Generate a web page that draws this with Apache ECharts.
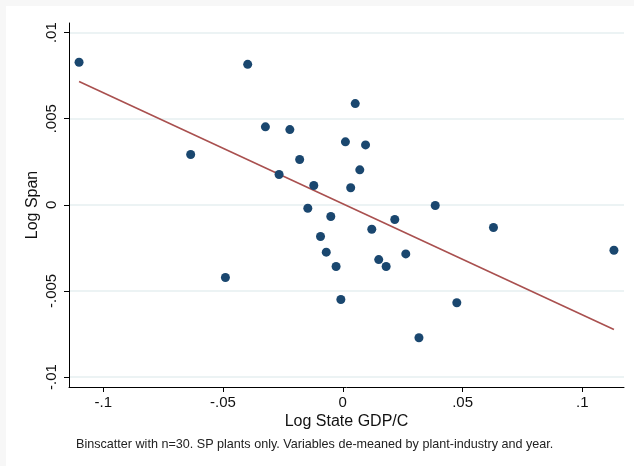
<!DOCTYPE html>
<html>
<head>
<meta charset="utf-8">
<script src="https://cdn.jsdelivr.net/npm/echarts@6/dist/echarts.min.js"></script>
<style>
  html, body { margin: 0; padding: 0; background: #f7f7f7; }
  #chart { width: 634px; height: 466px; }
</style>
</head>
<body>
<div id="chart"></div>
<script>
// Binned means: log state GDP per capita (x) vs log span (y)
const binX = [-0.1101, -0.0397, -0.0635, -0.0323, -0.0221, 0.0052, 0.0011, 0.0095, -0.0180, 0.0071,
              -0.0266, -0.0121, 0.0033, 0.0386, -0.0146, -0.0050, 0.0217, 0.0121, -0.0093, -0.0069,
              -0.0028, 0.0150, 0.0181, 0.0263, -0.0008, 0.0318, 0.0629, 0.1132, 0.0476, -0.0490];
const binY = [0.00828, 0.00816, 0.00292, 0.00453, 0.00437, 0.00588, 0.00366, 0.00348, 0.00263, 0.00203,
              0.00176, 0.00112, 0.00099, -0.00004, -0.00020, -0.00068, -0.00085, -0.00142, -0.00184, -0.00275,
              -0.00358, -0.00318, -0.00358, -0.00285, -0.00550, -0.00772, -0.00132, -0.00264, -0.00569, -0.00422];

// Linear fit, evaluated at the outermost bins
const fitX = [-0.1101, 0.1132];
const fitY = [0.00716, -0.00724];

const xTicks = [-0.1, -0.05, 0, 0.05, 0.1];
const yTicks = [-0.01, -0.005, 0, 0.005, 0.01];

const xLabel = 'Log State GDP/C';
const yLabel = 'Log Span';
const note = 'Binscatter with n=30. SP plants only. Variables de-meaned by plant-industry and year.';

// Stata-style numbers: drop the leading zero (".05", "-.005")
function stataNum(v) {
  if (Math.abs(v) < 1e-12) return '0';
  let s = String(+v.toPrecision(6));
  return s.replace(/^(-?)0\./, '$1.');
}

const points = binX.map((x, i) => [x, binY[i]]);
const fitLine = fitX.map((x, i) => [x, fitY[i]]);

const font = 'Liberation Sans, Arial, Helvetica, sans-serif';
const chart = echarts.init(document.getElementById('chart'), null, { renderer: 'canvas' });

chart.setOption({
  backgroundColor: '#f7f7f7',
  animation: false,
  graphic: [{
    type: 'rect', z: -10, silent: true,
    shape: { x: 6, y: 6, width: 628, height: 460 },
    style: { fill: '#ffffff' }
  }],
  title: {
    text: note,
    left: 71, top: 433,
    textStyle: { fontFamily: font, fontSize: 12.6, fontWeight: 'normal', color: '#222' }
  },
  grid: { left: 69, right: 10, top: 23, bottom: 79 },
  xAxis: {
    type: 'value',
    min: -0.1143, max: 0.1174,
    name: xLabel,
    nameLocation: 'middle',
    nameGap: 27,
    nameMoveOverlap: false,
    nameTextStyle: { fontFamily: font, fontSize: 16, color: '#111' },
    axisLine: { show: true, onZero: false, lineStyle: { color: '#000', width: 1 } },
    axisTick: { show: true, length: 5, customValues: xTicks, lineStyle: { color: '#000' } },
    axisLabel: {
      customValues: xTicks, margin: 8,
      formatter: stataNum,
      fontFamily: font, fontSize: 15, color: '#111'
    },
    splitLine: { show: false }
  },
  yAxis: {
    type: 'value',
    min: -0.01058, max: 0.01056,
    name: yLabel,
    nameLocation: 'middle',
    nameGap: 28,
    nameRotate: 90,
    nameMoveOverlap: false,
    nameTextStyle: { fontFamily: font, fontSize: 16, color: '#111' },
    axisLine: { show: true, onZero: false, lineStyle: { color: '#000', width: 1 } },
    axisTick: { show: true, length: 5, customValues: yTicks, lineStyle: { color: '#000' } },
    axisLabel: {
      customValues: yTicks, margin: 10, rotate: 90,
      formatter: stataNum,
      fontFamily: font, fontSize: 15, color: '#111'
    },
    splitLine: { show: true, lineStyle: { color: '#e6eff1', width: 1.5 } }
  },
  series: [
    {
      type: 'scatter',
      data: points,
      symbol: 'circle',
      symbolSize: 9,
      itemStyle: { color: '#1a476f', opacity: 1 },
      z: 3
    },
    {
      type: 'line',
      data: fitLine,
      symbol: 'none',
      lineStyle: { color: '#a9504f', width: 1.6 },
      z: 2
    }
  ]
});
</script>
</body>
</html>
